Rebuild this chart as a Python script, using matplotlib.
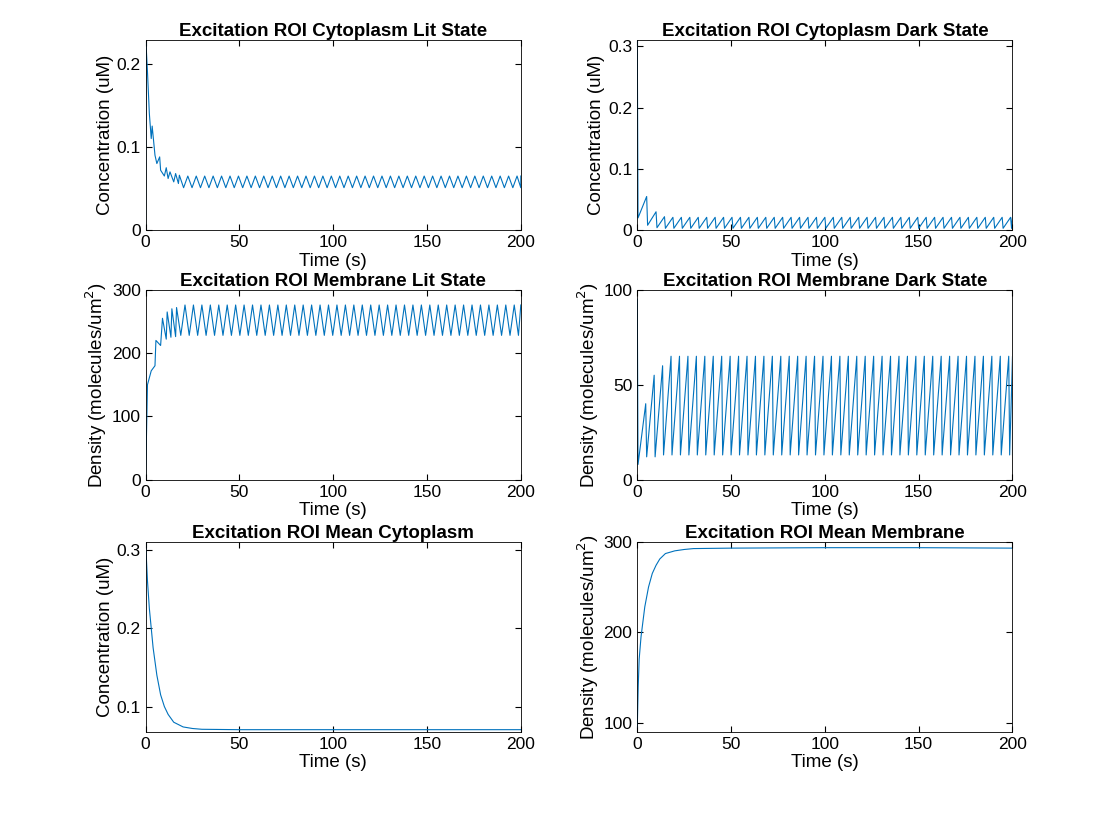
import numpy as np
import matplotlib.pyplot as plt
from matplotlib.ticker import FuncFormatter

plt.rcParams['font.family'] = ['Liberation Sans', 'DejaVu Sans']
plt.rcParams['font.size'] = 12.5

BLUE = '#0072BD'
PERIOD = 4.5

# ---- transient parts (time, value) ----
lit_cyt_t = [0, 0.2, 1, 2, 3, 3.5, 5, 6, 7.5, 8, 10, 11, 12, 13, 15, 16, 17.5, 18]
lit_cyt_v = [0, 0.225, 0.19, 0.14, 0.11, 0.125, 0.09, 0.08, 0.088, 0.072, 0.065, 0.075, 0.062, 0.07, 0.058, 0.068, 0.056, 0.066]
lit_cyt_hi, lit_cyt_lo = 0.065, 0.051

dark_cyt_t = [0, 0.4, 5, 5.5, 10, 10.5, 14.5, 15]
dark_cyt_v = [0.31, 0.02, 0.055, 0.008, 0.03, 0.004, 0.022, 0.003]
dark_cyt_hi, dark_cyt_lo = 0.021, 0.003

lit_mem_t = [0, 1, 3, 5, 5.5, 8, 9, 11, 11.5, 13.5, 14, 16, 16.5]
lit_mem_v = [0, 150, 172, 180, 220, 212, 255, 222, 265, 225, 270, 226, 272]
lit_mem_hi, lit_mem_lo = 276, 228

dark_mem_t = [0, 0.4, 4.5, 5, 9, 9.5, 13.5, 14]
dark_mem_v = [95, 8, 40, 12, 55, 12, 60, 13]
dark_mem_hi, dark_mem_lo = 65, 13

mean_cyt_t = [0, 1, 2, 4, 6, 8, 10, 12, 15, 20, 25, 30, 50, 100, 150, 200]
mean_cyt_v = [0.31, 0.26, 0.225, 0.175, 0.14, 0.115, 0.1, 0.09, 0.08, 0.074, 0.072, 0.071, 0.0705, 0.0705, 0.0705, 0.0705]

mean_mem_t = [0, 0.5, 1, 2, 4, 6, 8, 10, 12, 15, 20, 25, 30, 50, 100, 150, 200]
mean_mem_v = [95, 140, 170, 195, 228, 250, 265, 274, 281, 287, 290, 291.5, 292.5, 293, 293.5, 293.5, 293]


def extend_saw(t, v, hi, lo, rise_first):
    # continue a steady zig-zag after the transient up to 200 s
    t = list(t); v = list(v)
    cur = t[-1]
    while cur < 200:
        if rise_first:
            a, b = PERIOD - 0.5, 0.5
            first, second = hi, lo
        else:
            a, b = PERIOD / 2, PERIOD / 2
            first, second = lo, hi
        cur2 = min(cur + a, 200); t.append(cur2); v.append(first)
        cur3 = min(cur2 + b, 200); t.append(cur3); v.append(second)
        cur = cur3
    return t, v


panels = [
    ("Excitation ROI Cytoplasm Lit State", 'Concentration (uM)',
     extend_saw(lit_cyt_t, lit_cyt_v, lit_cyt_hi, lit_cyt_lo, False), (0, 0.228), [0, 0.1, 0.2]),
    ("Excitation ROI Cytoplasm Dark State", 'Concentration (uM)',
     extend_saw(dark_cyt_t, dark_cyt_v, dark_cyt_hi, dark_cyt_lo, True), (0, 0.31), [0, 0.1, 0.2, 0.3]),
    ("Excitation ROI Membrane Lit State", 'Density (molecules/um$^2$)',
     extend_saw(lit_mem_t, lit_mem_v, lit_mem_hi, lit_mem_lo, False), (0, 300), [0, 100, 200, 300]),
    ("Excitation ROI Membrane Dark State", 'Density (molecules/um$^2$)',
     extend_saw(dark_mem_t, dark_mem_v, dark_mem_hi, dark_mem_lo, True), (0, 100), [0, 50, 100]),
    ("Excitation ROI Mean Cytoplasm", 'Concentration (uM)',
     (mean_cyt_t, mean_cyt_v), (0.068, 0.31), [0.1, 0.2, 0.3]),
    ("Excitation ROI Mean Membrane", 'Density (molecules/um$^2$)',
     (mean_mem_t, mean_mem_v), (90, 300), [100, 200, 300]),
]

fmt = FuncFormatter(lambda x, p: f"{x:g}")

fig = plt.figure(figsize=(11.2, 8.4), dpi=100)
lefts = [0.130, 0.569]
bottoms = [0.726, 0.429, 0.129]
for i, (title, ylab, (t, v), ylim, yt) in enumerate(panels):
    ax = fig.add_axes([lefts[i % 2], bottoms[i // 2], 0.335, 0.226])
    ax.plot(t, v, color=BLUE, lw=0.8)
    ax.set_xlim(0, 200)
    ax.set_ylim(*ylim)
    ax.set_xticks([0, 50, 100, 150, 200])
    ax.set_yticks(yt)
    ax.yaxis.set_major_formatter(fmt)
    ax.tick_params(direction='in', length=4, top=True, right=True, labelsize=12.5)
    for s in ax.spines.values():
        s.set_linewidth(0.6)
    ax.set_title(title, fontweight='bold', fontsize=13.5, pad=3)
    ax.set_xlabel('Time (s)', fontsize=13.5, labelpad=2)
    ax.set_ylabel(ylab, fontsize=13.5, labelpad=2)

fig.savefig('out.png', dpi=100)
